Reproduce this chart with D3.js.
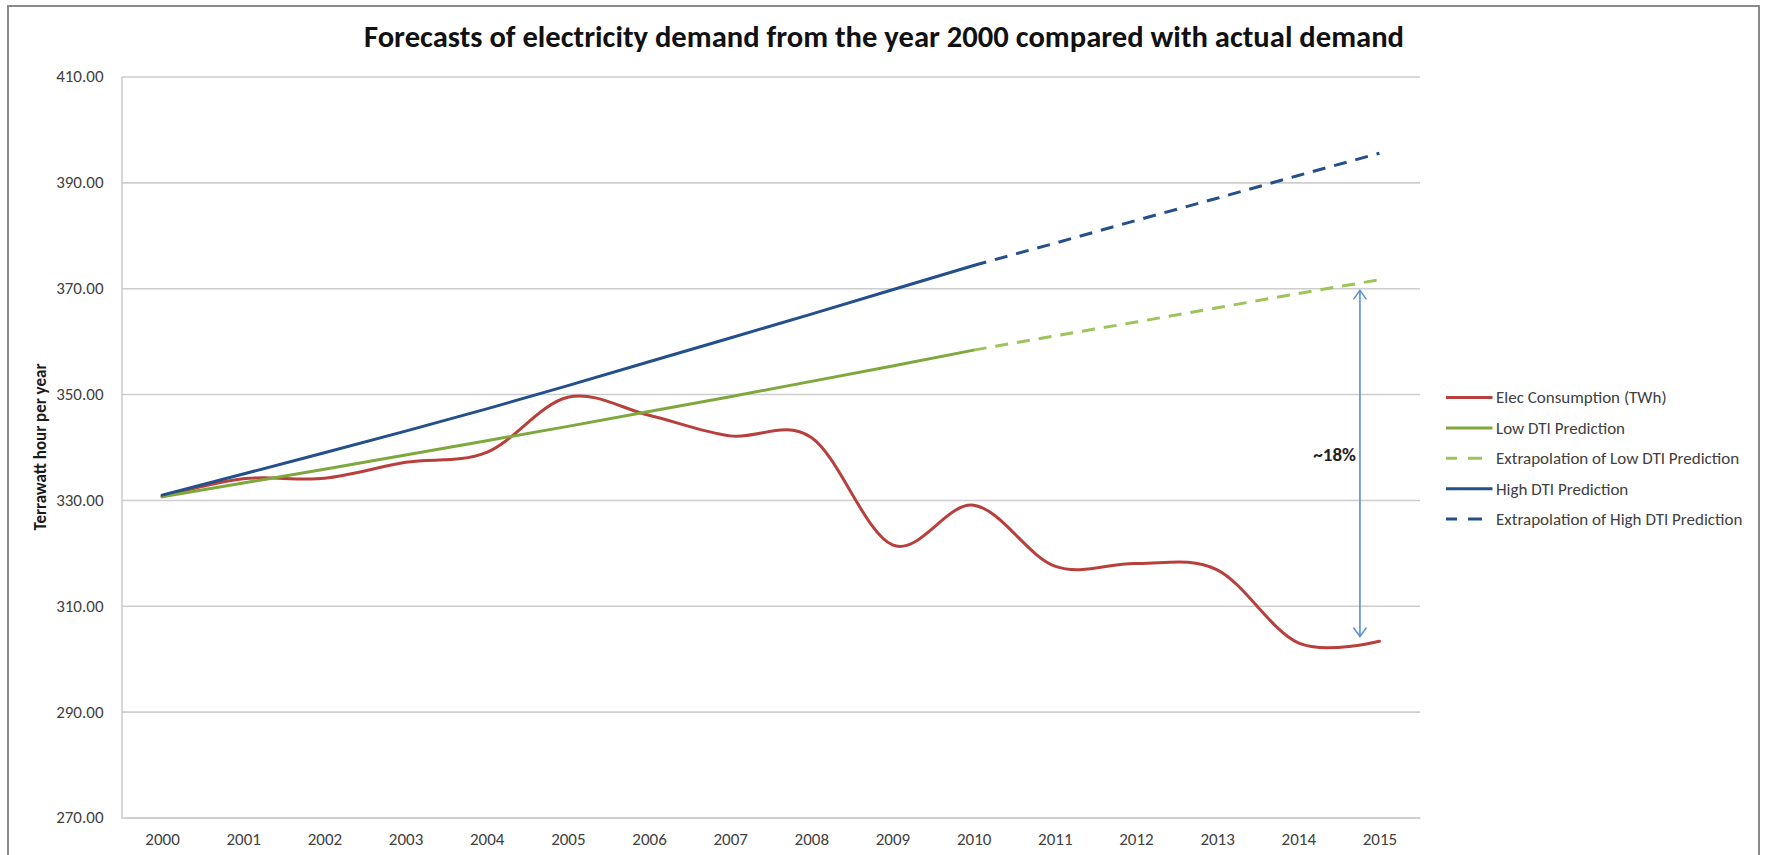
<!DOCTYPE html>
<html>
<head>
<meta charset="utf-8">
<script src="https://cdn.jsdelivr.net/npm/d3@7"></script>
<style>
  html, body { margin: 0; padding: 0; background: #ffffff; }
  svg { display: block; font-family: Carlito, Lato, "Open Sans", sans-serif; }
</style>
</head>
<body>
<div id="chart"></div>
<script>
// values
const years = [2000, 2001, 2002, 2003, 2004, 2005, 2006, 2007, 2008, 2009, 2010, 2011, 2012, 2013, 2014, 2015];
const elecConsumption = [330.6, 334.0, 334.1, 337.1, 339.0, 349.4, 346.0, 342.1, 341.8, 321.5, 329.0, 317.5, 318.0, 316.8, 303.0, 303.3];

const predictionYears = [2000, 2001, 2002, 2003, 2004, 2005, 2006, 2007, 2008, 2009, 2010];
const lowDti = [330.6, 333.2, 335.8, 338.5, 341.2, 343.9, 346.7, 349.5, 352.4, 355.3, 358.3];
const highDti = [330.9, 334.9, 338.9, 343.0, 347.2, 351.6, 356.1, 360.6, 365.1, 369.7, 374.3];

const extrapolationYears = [2010, 2011, 2012, 2013, 2014, 2015];
const lowDtiExtrapolation = [358.3, 361.0, 363.6, 366.3, 369.0, 371.6];
const highDtiExtrapolation = [374.3, 378.5, 382.8, 387.0, 391.3, 395.5];

const yTicks = [270, 290, 310, 330, 350, 370, 390, 410];

const seriesNames = ["Elec Consumption (TWh)", "Low DTI Prediction", "Extrapolation of Low DTI Prediction",
                     "High DTI Prediction", "Extrapolation of High DTI Prediction"];

// the "~18%" gap marker between the low extrapolation and actual demand
const gapYear = 2014.76;
const gapTop = 369.6;
const gapBottom = 304.2;
const gapLabel = "~18%";
const gapLabelValue = 338.6;

const titleText = "Forecasts of electricity demand from the year 2000 compared with actual demand";
const yTitle = "Terrawatt hour per year";

const width = 1765, height = 855;
const plot = {left: 121.5, right: 1420, top: 76.5, bottom: 817.5};

const colors = {
  elec: "#b8403c",
  low: "#7ea83c",
  lowExt: "#9cc45a",
  high: "#234f8b",
  highExt: "#234f8b",
  arrow: "#5b8fd2",
  grid: "#cdcdcd",
  text: "#404040"
};

const svg = d3.select("#chart").append("svg")
  .attr("width", width)
  .attr("height", height);

// outer chart frame
svg.append("rect")
  .attr("x", 8).attr("y", 6)
  .attr("width", 1751).attr("height", 900)
  .attr("fill", "#ffffff")
  .attr("stroke", "#8a8a8a")
  .attr("stroke-width", 2);

const x = d3.scaleLinear()
  .domain([1999.5, 2015.5])
  .range([plot.left, plot.right]);

const y = d3.scaleLinear()
  .domain([270, 410])
  .range([plot.bottom, plot.top]);

// gridlines
const grid = svg.append("g")
  .attr("transform", "translate(" + plot.left + ",0)")
  .call(d3.axisLeft(y).tickValues(yTicks).tickFormat("").tickSize(-(plot.right - plot.left)));
grid.select(".domain").remove();
grid.selectAll("line").attr("stroke", colors.grid).attr("stroke-width", 1.6);

// y axis
const yAxis = svg.append("g")
  .attr("transform", "translate(" + plot.left + ",0)")
  .call(d3.axisLeft(y).tickValues(yTicks).tickFormat(d3.format(".2f")).tickSize(0).tickPadding(18));
yAxis.attr("font-family", null).attr("font-size", null);
yAxis.select(".domain").attr("stroke", colors.grid).attr("stroke-width", 1.6);
yAxis.selectAll("text")
  .attr("font-size", 17)
  .attr("fill", colors.text);

// x axis
const xAxis = svg.append("g")
  .attr("transform", "translate(0," + plot.bottom + ")")
  .call(d3.axisBottom(x).tickValues(years).tickFormat(d3.format("d")).tickSize(0).tickPadding(15));
xAxis.attr("font-family", null).attr("font-size", null);
xAxis.select(".domain").attr("stroke", colors.grid).attr("stroke-width", 1.6);
xAxis.selectAll("text")
  .attr("font-size", 17)
  .attr("fill", colors.text);

// y axis title
svg.append("text")
  .attr("transform", "translate(46,447) rotate(-90)")
  .attr("text-anchor", "middle")
  .attr("font-size", 17)
  .attr("font-weight", "bold")
  .attr("fill", "#1a1a1a")
  .text(yTitle);

// chart title
svg.append("text")
  .attr("x", 884)
  .attr("y", 47)
  .attr("text-anchor", "middle")
  .attr("font-size", 30.5)
  .attr("font-weight", "bold")
  .attr("fill", "#111111")
  .attr("textLength", 1040)
  .attr("lengthAdjust", "spacingAndGlyphs")
  .text(titleText);

function plotSeries(xs, values, color, curve, dashed) {
  const pts = xs.map((yr, i) => ({year: yr, value: values[i]}));
  const line = d3.line()
    .x(d => x(d.year))
    .y(d => y(d.value))
    .curve(curve);
  svg.append("path")
    .datum(pts)
    .attr("fill", "none")
    .attr("stroke", color)
    .attr("stroke-width", 3)
    .attr("stroke-linejoin", "round")
    .attr("stroke-linecap", dashed ? "butt" : "round")
    .attr("stroke-dasharray", dashed ? "13,9" : null)
    .attr("d", line);
}

plotSeries(years, elecConsumption, colors.elec, d3.curveCardinal.tension(0), false);
plotSeries(predictionYears, lowDti, colors.low, d3.curveLinear, false);
plotSeries(extrapolationYears, lowDtiExtrapolation, colors.lowExt, d3.curveLinear, true);
plotSeries(predictionYears, highDti, colors.high, d3.curveLinear, false);
plotSeries(extrapolationYears, highDtiExtrapolation, colors.highExt, d3.curveLinear, true);

// double headed arrow
const defs = svg.append("defs");
defs.append("marker")
  .attr("id", "openArrow")
  .attr("viewBox", "-11 -8 13 16")
  .attr("refX", 0).attr("refY", 0)
  .attr("markerUnits", "userSpaceOnUse")
  .attr("markerWidth", 13).attr("markerHeight", 16)
  .attr("orient", "auto-start-reverse")
  .append("path")
  .attr("d", "M-9,-6.5L0,0L-9,6.5")
  .attr("fill", "none")
  .attr("stroke", colors.arrow)
  .attr("stroke-width", 1.5);

svg.append("line")
  .attr("x1", x(gapYear)).attr("y1", y(gapTop))
  .attr("x2", x(gapYear)).attr("y2", y(gapBottom))
  .attr("stroke", colors.arrow)
  .attr("stroke-width", 1.6)
  .attr("marker-start", "url(#openArrow)")
  .attr("marker-end", "url(#openArrow)");

svg.append("text")
  .attr("x", x(gapYear) - 4)
  .attr("y", y(gapLabelValue))
  .attr("dy", "0.35em")
  .attr("text-anchor", "end")
  .attr("font-size", 19)
  .attr("font-weight", "bold")
  .attr("fill", "#222222")
  .text(gapLabel);

// legend
const legendStyles = [
  {color: colors.elec, dashed: false},
  {color: colors.low, dashed: false},
  {color: colors.lowExt, dashed: true},
  {color: colors.high, dashed: false},
  {color: colors.highExt, dashed: true}
];
const legend = svg.append("g").attr("transform", "translate(1446,397.5)");
seriesNames.forEach(function (name, i) {
  const row = legend.append("g").attr("transform", "translate(0," + (i * 30.4) + ")");
  row.append("line")
    .attr("x1", 0).attr("x2", 46.5)
    .attr("y1", 0).attr("y2", 0)
    .attr("stroke", legendStyles[i].color)
    .attr("stroke-width", 3)
    .attr("stroke-dasharray", legendStyles[i].dashed ? "11,11,14,20" : null);
  row.append("text")
    .attr("x", 50)
    .attr("y", 0)
    .attr("dy", "0.35em")
    .attr("font-size", 17)
    .attr("fill", colors.text)
    .text(name);
});
</script>
</body>
</html>
